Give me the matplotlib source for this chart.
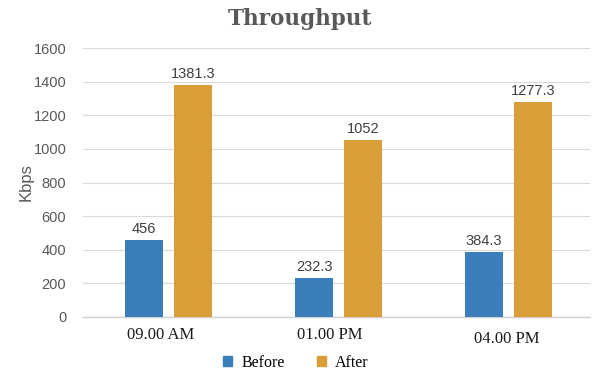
import numpy as np
import matplotlib
matplotlib.use("Agg")
from matplotlib import pyplot as plt
from matplotlib.transforms import ScaledTranslation

# Throughput per time slot
times = ["09.00 AM", "01.00 PM", "04.00 PM"]
before = [456, 232.3, 384.3]
after = [1381.3, 1052, 1277.3]
before_labels = ["456", "232.3", "384.3"]
after_labels = ["1381.3", "1052", "1277.3"]
yticks = [0, 200, 400, 600, 800, 1000, 1200, 1400, 1600]

blue = "#3A7EBB"
orange = "#D99E38"
grey = "#595959"

fig = plt.figure(figsize=(5.92, 3.73), dpi=100)
ax = fig.add_axes([83 / 592, 1 - 317 / 373, 507 / 592, 269 / 373])

x = np.arange(len(times))
w = 0.224
ax.bar(x - 0.142, before, w, color=blue, zorder=3)
ax.bar(x + 0.146, after, w, color=orange, zorder=3)

for i in range(len(times)):
    ax.text(x[i] - 0.142, before[i] + 25, before_labels[i], ha="center", va="bottom",
            fontsize=10.5, color="#404040", family="Liberation Sans")
    ax.text(x[i] + 0.146, after[i] + 25, after_labels[i], ha="center", va="bottom",
            fontsize=10.5, color="#404040", family="Liberation Sans")

ax.set_xlim(-0.5, 2.48)
ax.set_ylim(0, 1600)
ax.set_yticks(yticks)
ax.set_yticklabels([str(v) for v in yticks], family="Liberation Sans", fontsize=10.5, color=grey)
ax.set_xticks(x)
ax.set_xticklabels(times, family="Liberation Serif", fontsize=12, color="#1a1a1a")
ax.tick_params(axis="x", length=0, pad=7)
ax.tick_params(axis="y", length=0, pad=12)
# category labels are not exactly centred under their groups
shifts = [(-7, 0), (-8, 0), (-2, -4)]
for lbl, (dx, dy) in zip(ax.get_xticklabels(), shifts):
    lbl.set_transform(lbl.get_transform() + ScaledTranslation(dx / 100, dy / 100, fig.dpi_scale_trans))

ax.grid(axis="y", color="#d9d9d9", linewidth=0.8, zorder=0)
for s in ["top", "right", "left"]:
    ax.spines[s].set_visible(False)
ax.spines["bottom"].set_color("#d0d0d0")
ax.spines["bottom"].set_linewidth(1.0)

ax.set_ylabel("Kbps", family="Liberation Sans", fontsize=12, color=grey)
ax.yaxis.set_label_coords(-0.097, 0.5)

fig.text(0.507, 0.95, "Throughput", ha="center", va="center", fontsize=15.5,
         fontweight="bold", family="DejaVu Serif", color=grey)

# legend under the axis
handles = [plt.Rectangle((0, 0), 1, 1, color=blue), plt.Rectangle((0, 0), 1, 1, color=orange)]
fig.legend(handles, ["Before", "After"], loc="center", bbox_to_anchor=(0.5, 0.028),
           ncol=2, frameon=False, handlelength=0.55, handleheight=0.55, columnspacing=2.0,
           handletextpad=0.6, prop={"family": "Liberation Serif", "size": 11.5})

fig.savefig("out.png", dpi=100)
